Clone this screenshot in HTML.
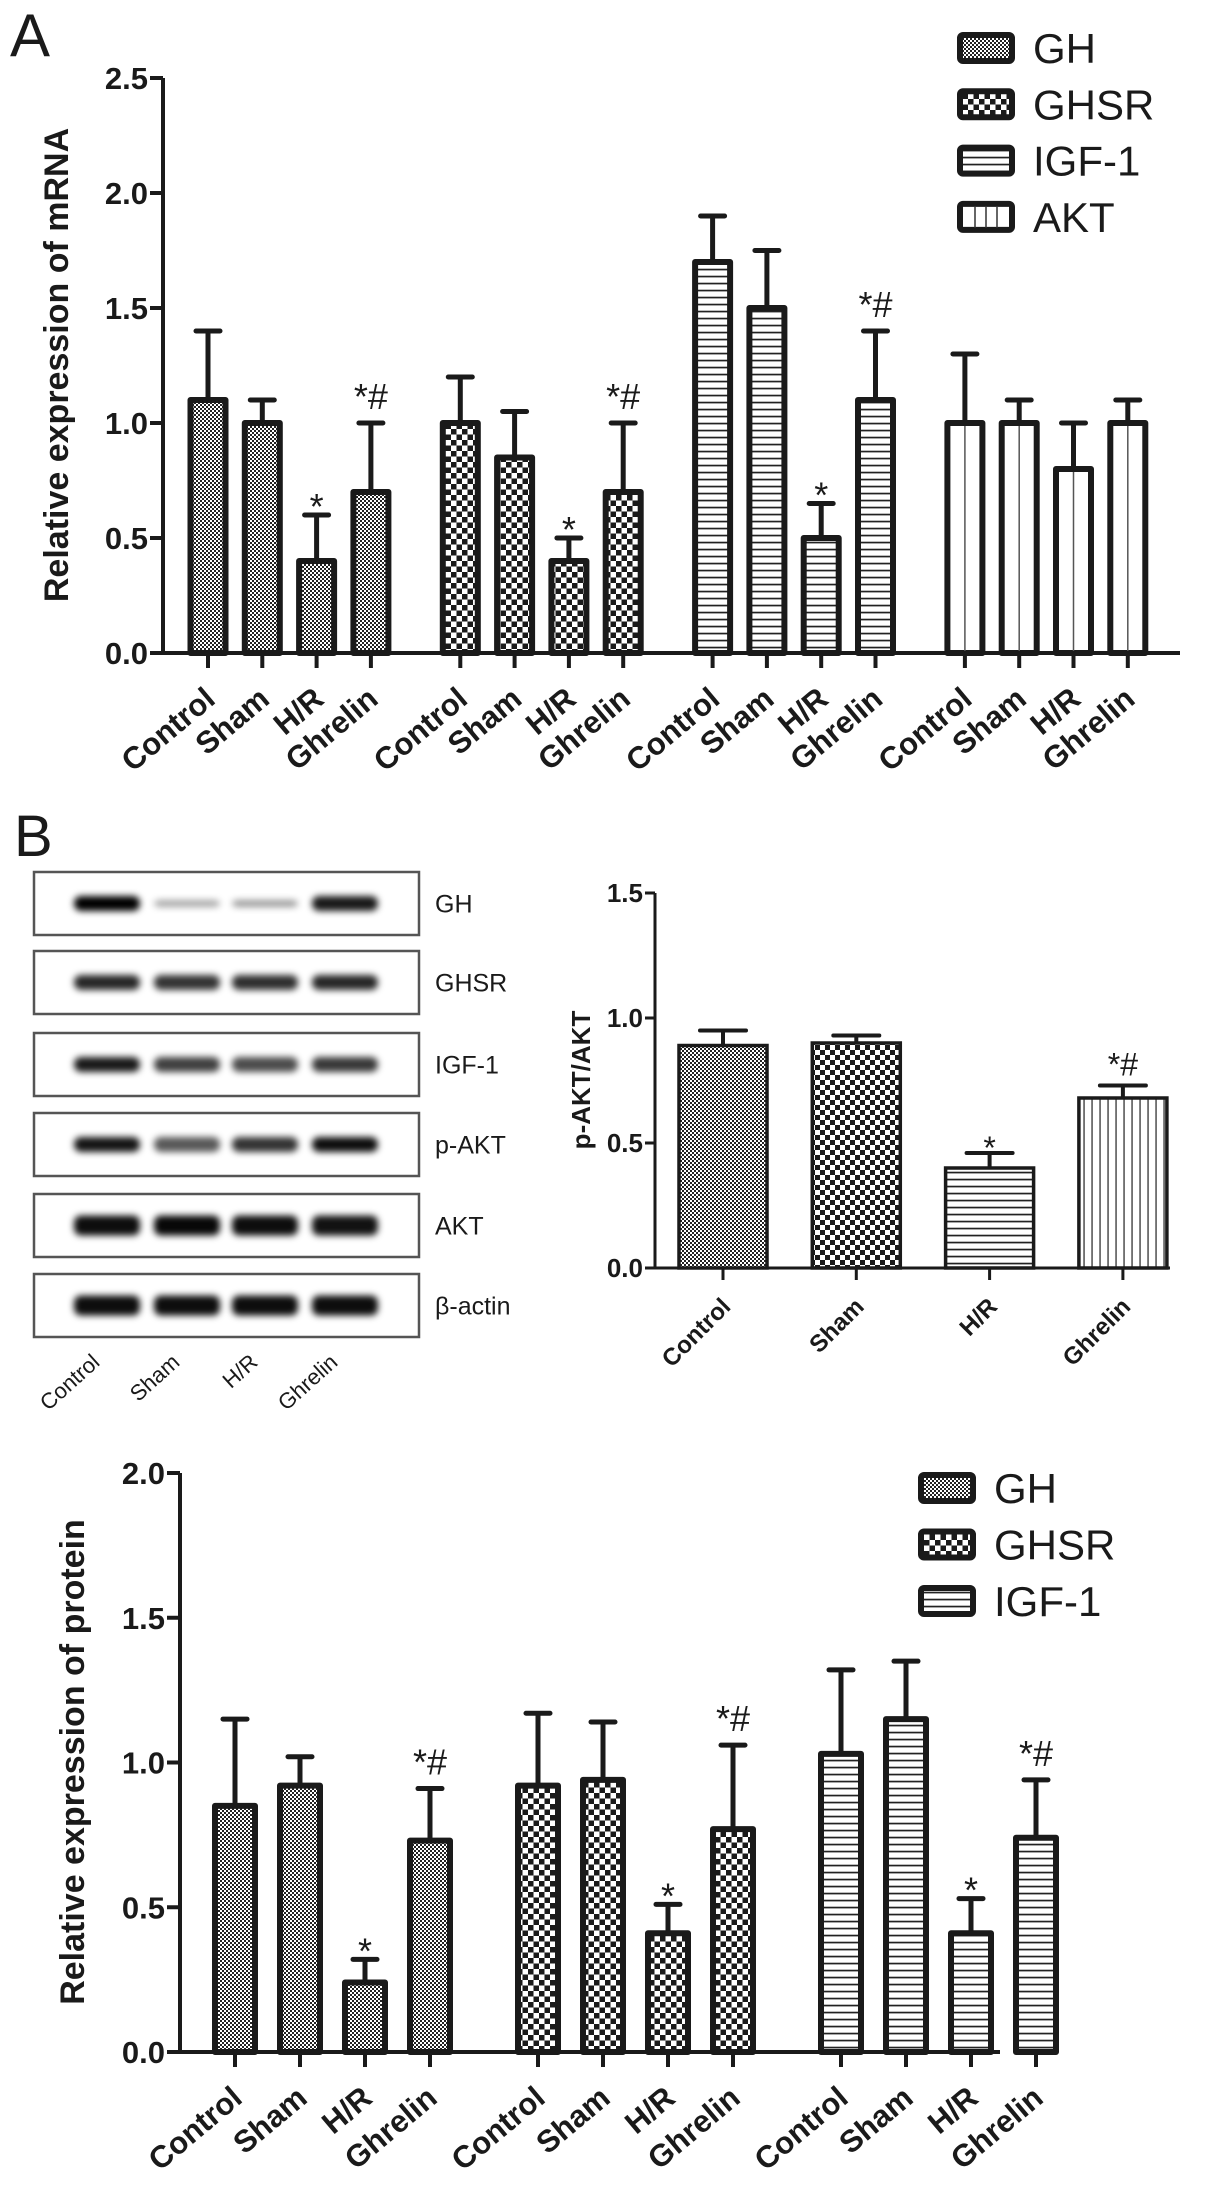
<!DOCTYPE html>
<html><head><meta charset="utf-8"><title>Figure</title>
<style>html,body{margin:0;padding:0;background:#fff}svg{display:block}text{font-family:"Liberation Sans",Arial,sans-serif;fill:#1a1a1a}</style>
</head><body>
<svg id="fig" xmlns="http://www.w3.org/2000/svg" width="1205" height="2204" viewBox="0 0 1205 2204">
<defs>
<pattern id="pFine" patternUnits="userSpaceOnUse" width="4" height="4"><rect width="4" height="4" fill="#fff"/><rect width="2" height="2" fill="#222"/><rect x="2" y="2" width="2" height="2" fill="#222"/></pattern>
<pattern id="pCheck" patternUnits="userSpaceOnUse" width="11" height="11"><rect width="11" height="11" fill="#fff"/><rect width="5.5" height="5.5" fill="#1a1a1a"/><rect x="5.5" y="5.5" width="5.5" height="5.5" fill="#1a1a1a"/></pattern>
<pattern id="pCheckS" patternUnits="userSpaceOnUse" width="10" height="10"><rect width="10" height="10" fill="#fff"/><rect width="5" height="5" fill="#1a1a1a"/><rect x="5" y="5" width="5" height="5" fill="#1a1a1a"/></pattern>
<pattern id="pH" patternUnits="userSpaceOnUse" width="10" height="7"><rect width="10" height="7" fill="#fff"/><rect y="2.7" width="10" height="1.7" fill="#222"/></pattern>
<pattern id="pV" patternUnits="userSpaceOnUse" width="8" height="10"><rect width="8" height="10" fill="#fff"/><rect x="3.4" width="1.3" height="10" fill="#333"/></pattern>
<filter id="blur" x="-30%" y="-100%" width="160%" height="300%"><feGaussianBlur stdDeviation="3.5"/></filter>
</defs>
<text x="10" y="56" font-size="60">A</text>
<text x="14" y="856" font-size="58">B</text>
<g id="top"></g>
<g id="blot"></g>
<g id="pakt"></g>
<g id="bot"></g>
</svg>
<script>
// ---- Panel A data (mRNA) ----
const groupCats = ['Control','Sham','H/R','Ghrelin'];
const mrnaSeries = ['GH','GHSR','IGF-1','AKT'];
const ghMrna = [1.1, 1.0, 0.4, 0.7];
const ghMrnaErr = [1.4, 1.1, 0.6, 1.0];
const ghsrMrna = [1.0, 0.85, 0.4, 0.7];
const ghsrMrnaErr = [1.2, 1.05, 0.5, 1.0];
const igfMrna = [1.7, 1.5, 0.5, 1.1];
const igfMrnaErr = [1.9, 1.75, 0.65, 1.4];
const aktMrna = [1.0, 1.0, 0.8, 1.0];
const aktMrnaErr = [1.3, 1.1, 1.0, 1.1];
const mrnaSig = [['','','*','*#'],['','','*','*#'],['','','*','*#'],['','','','']];
const mrnaTicks = ['0.0','0.5','1.0','1.5','2.0','2.5'];
// ---- p-AKT/AKT ----
const paktVals = [0.89, 0.9, 0.4, 0.68];
const paktErr = [0.95, 0.93, 0.46, 0.73];
const paktSig = ['','','*','*#'];
const paktTicks = ['0.0','0.5','1.0','1.5'];
// ---- Protein data ----
const protSeries = ['GH','GHSR','IGF-1'];
const ghProt = [0.85, 0.92, 0.24, 0.73];
const ghProtErr = [1.15, 1.02, 0.32, 0.91];
const ghsrProt = [0.92, 0.94, 0.41, 0.77];
const ghsrProtErr = [1.17, 1.14, 0.51, 1.06];
const igfProt = [1.03, 1.15, 0.41, 0.74];
const igfProtErr = [1.32, 1.35, 0.53, 0.94];
const protSig = [['','','*','*#'],['','','*','*#'],['','','*','*#']];
const protTicks = ['0.0','0.5','1.0','1.5','2.0'];
// ---- Blot band intensities (0-1) ----
const blotProteins = ['GH','GHSR','IGF-1','p-AKT','AKT','β-actin'];
const bandGH = [1.0, 0.35, 0.4, 0.9];
const bandGHSR = [0.85, 0.8, 0.82, 0.85];
const bandIGF = [0.9, 0.75, 0.7, 0.78];
const bandPAKT = [0.92, 0.65, 0.8, 0.95];
const bandAKT = [0.95, 0.97, 0.95, 0.93];
const bandActin = [0.95, 0.95, 0.95, 0.95];

const NS='http://www.w3.org/2000/svg';
function mk(parent, tag, attrs){const e=document.createElementNS(NS,tag);for(const k in attrs)e.setAttribute(k,attrs[k]);parent.appendChild(e);return e;}
const fills = {'GH':'url(#pFine)','GHSR':'url(#pCheck)','IGF-1':'url(#pH)','AKT':'#fff'};

function drawGroupedChart(g, cfg){
  const y = v => cfg.y0 - cfg.scale*v;
  const ymax = (cfg.ticks.length-1)*0.5;
  // y axis
  let ax = mk(g,'line',{x1:cfg.ax,y1:y(ymax),x2:cfg.ax,y2:cfg.y0+2,stroke:'#1a1a1a','stroke-width':4});
  
  
  let xa = mk(g,'line',{x1:cfg.ax-2,y1:cfg.y0,x2:cfg.xend,y2:cfg.y0,stroke:'#1a1a1a','stroke-width':4});
  
  
  cfg.ticks.forEach((t,i)=>{
    const ty=y(i*0.5);
    mk(g,'line',{x1:cfg.ax-13,y1:ty,x2:cfg.ax,y2:ty,stroke:'#1a1a1a','stroke-width':4});
    const tl=mk(g,'text',{x:cfg.ax-15,y:ty+11,'text-anchor':'end','font-size':31,'font-weight':'bold'});
    tl.textContent=t;
    
    
  });
  const tt=mk(g,'text',{transform:`translate(${cfg.titleX},${cfg.titleY}) rotate(-90)`,'text-anchor':'middle','font-size':34,'font-weight':'bold'});
  tt.textContent=cfg.title;
  
  
  cfg.series.forEach((s,gi)=>{
    const vals=cfg.vals[gi], errs=cfg.errs[gi];
    groupCats.forEach((c,i)=>{
      const cx=cfg.gx0+cfg.gp*gi+cfg.bp*i;
      const w=cfg.bw-6;
      // error bar
      const el=mk(g,'line',{x1:cx,y1:y(vals[i]),x2:cx,y2:y(errs[i]),stroke:'#1a1a1a','stroke-width':5});
      
      
      mk(g,'line',{x1:cx-12,y1:y(errs[i]),x2:cx+12,y2:y(errs[i]),stroke:'#1a1a1a','stroke-width':5,'stroke-linecap':'round'});
      const r=mk(g,'rect',{x:cx-w/2,y:y(vals[i]),width:w,height:cfg.y0-y(vals[i]),fill:fills[s],stroke:'#1a1a1a','stroke-width':6,'stroke-linejoin':'round'});
      
      
      if(s==='AKT'){mk(g,'line',{x1:cx,y1:y(vals[i])+3,x2:cx,y2:cfg.y0-2,stroke:'#555','stroke-width':1.5});}
      mk(g,'line',{x1:cx,y1:cfg.y0,x2:cx,y2:cfg.y0+15,stroke:'#1a1a1a','stroke-width':4});
      const xl=mk(g,'text',{transform:`translate(${cx+9},${cfg.y0+49}) rotate(-40)`,'text-anchor':'end','font-size':31,'font-weight':'bold'});
      xl.textContent=c;
      
      
      const sg=cfg.sig[gi][i];
      if(sg){
        const st=mk(g,'text',{x:cx,y:y(errs[i])+(sg==='*'?4:-14),'text-anchor':'middle','font-size':36});
        st.textContent=sg;
        
        
      }
    });
  });
  // legend
  cfg.series.forEach((s,i)=>{
    const ly=cfg.legY+i*cfg.legStep;
    const lb=mk(g,'rect',{x:cfg.legX+3,y:ly+3,width:52,height:26,rx:3,fill:fills[s],stroke:'#1a1a1a','stroke-width':6});
    
    
    if(s==='AKT'){[15,26,37].forEach(d=>mk(g,'line',{x1:cfg.legX+d+3,y1:ly+5,x2:cfg.legX+d+3,y2:ly+27,stroke:'#333','stroke-width':1.5}));}
    const lt=mk(g,'text',{x:cfg.legX+76,y:ly+31,'font-size':42});
    lt.textContent=s;
    
    
  });
}

drawGroupedChart(document.getElementById('top'),{
  y0:653, scale:230, ax:163, xend:1180, gx0:208, gp:252.3, bp:54.3, bw:41,
  ticks:mrnaTicks, series:mrnaSeries,
  vals:[ghMrna,ghsrMrna,igfMrna,aktMrna], errs:[ghMrnaErr,ghsrMrnaErr,igfMrnaErr,aktMrnaErr],
  sig:mrnaSig, title:'Relative expression of mRNA', titleX:68, titleY:365,
  legX:957, legY:32, legStep:56.3
});
drawGroupedChart(document.getElementById('bot'),{
  y0:2052, scale:289.5, ax:180, xend:1000, gx0:235, gp:303, bp:65, bw:46,
  ticks:protTicks, series:protSeries,
  vals:[ghProt,ghsrProt,igfProt], errs:[ghProtErr,ghsrProtErr,igfProtErr],
  sig:protSig, title:'Relative expression of protein', titleX:84, titleY:1762,
  legX:918, legY:1472, legStep:56.5
});

// ---- p-AKT chart ----
(function(){
  const g=document.getElementById('pakt');
  const y0=1268, sc=250, ax=655;
  const y=v=>y0-sc*v;
  const paktFills=['url(#pFine)','url(#pCheckS)','url(#pH)','url(#pV)'];
  mk(g,'line',{x1:ax,y1:y(1.5),x2:ax,y2:y0+1.5,stroke:'#1a1a1a','stroke-width':3});
  mk(g,'line',{x1:ax-1.5,y1:y0,x2:1170,y2:y0,stroke:'#1a1a1a','stroke-width':3});
  paktTicks.forEach((t,i)=>{
    const ty=y(i*0.5);
    mk(g,'line',{x1:ax-10,y1:ty,x2:ax,y2:ty,stroke:'#1a1a1a','stroke-width':3});
    const tl=mk(g,'text',{x:ax-12,y:ty+9,'text-anchor':'end','font-size':26,'font-weight':'bold'});
    tl.textContent=t;
    
    
  });
  const tt=mk(g,'text',{transform:`translate(590,1080) rotate(-90)`,'text-anchor':'middle','font-size':26,'font-weight':'bold'});
  tt.textContent='p-AKT/AKT';
  
  
  groupCats.forEach((c,i)=>{
    const cx=723+133.3*i, w=88;
    mk(g,'line',{x1:cx,y1:y(paktVals[i]),x2:cx,y2:y(paktErr[i]),stroke:'#1a1a1a','stroke-width':4});
    mk(g,'line',{x1:cx-23,y1:y(paktErr[i]),x2:cx+23,y2:y(paktErr[i]),stroke:'#1a1a1a','stroke-width':4,'stroke-linecap':'round'});
    const r=mk(g,'rect',{x:cx-w/2,y:y(paktVals[i]),width:w,height:y0-y(paktVals[i]),fill:paktFills[i],stroke:'#1a1a1a','stroke-width':3.5});
    
    
    mk(g,'line',{x1:cx,y1:y0,x2:cx,y2:y0+12,stroke:'#1a1a1a','stroke-width':3});
    const xl=mk(g,'text',{transform:`translate(${cx+9},${y0+40}) rotate(-45)`,'text-anchor':'end','font-size':24,'font-weight':'bold'});
    xl.textContent=c;
    
    
    if(paktSig[i]){
      const st=mk(g,'text',{x:cx,y:y(paktErr[i])+(paktSig[i]==='*'?6:-10),'text-anchor':'middle','font-size':32});
      st.textContent=paktSig[i];
      
      
    }
  });
})();

// ---- Western blot ----
(function(){
  const g=document.getElementById('blot');
  const boxTops=[872,951,1033,1113,1194,1274];
  const bands=[bandGH,bandGHSR,bandIGF,bandPAKT,bandAKT,bandActin];
  const lanes=[107,187,265,345];
  blotProteins.forEach((p,bi)=>{
    const top=boxTops[bi], h=63;
    const bx=mk(g,'rect',{x:34,y:top,width:385,height:h,fill:'#fff',stroke:'#555','stroke-width':2.5});
    
    
    const cy=top+h/2;
    bands[bi].forEach((v,li)=>{
      const bh=bi>=4?20:(bi===0&&v<0.5?7:15);
      const b=mk(g,'rect',{x:lanes[li]-33,y:cy-bh/2,width:66,height:bh,rx:7,fill:'#000','fill-opacity':v,filter:'url(#blur)'});
      
      
    });
    const lt=mk(g,'text',{x:435,y:cy+9,'font-size':25});
    lt.textContent=p;
    
    
  });
  groupCats.forEach((c,i)=>{
    const t=mk(g,'text',{transform:`translate(${lanes[i]-6},1364) rotate(-42)`,'text-anchor':'end','font-size':22});
    t.textContent=c;
    
    
  });
})();
</script>
</body></html>
